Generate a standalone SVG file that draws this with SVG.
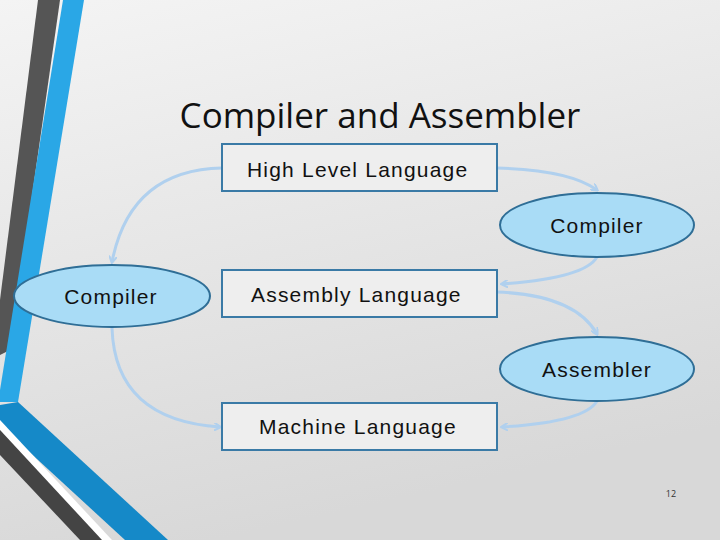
<svg xmlns="http://www.w3.org/2000/svg" width="720" height="540" viewBox="0 0 720 540">
<defs>
<linearGradient id="bg" x1="0" y1="0" x2="0.3" y2="1"><stop offset="0" stop-color="#f4f4f4"/><stop offset="1" stop-color="#d8d8d8"/></linearGradient>
<marker id="ah" markerWidth="8" markerHeight="8" refX="6" refY="4" orient="auto" markerUnits="userSpaceOnUse"><path d="M0,0 L7,4 L0,8" fill="none" stroke="#b0d0ee" stroke-width="2"/></marker>
</defs>
<style>
.box{fill:#eeeeee;stroke:#3a7aa6;stroke-width:2}
.ell{fill:#a9dcf6;stroke:#2f6e96;stroke-width:2}
.lbl{font-family:"Liberation Sans",Arial,sans-serif;font-size:21px;letter-spacing:1.2px;fill:#111}
.con{fill:none;stroke:#b0d0ee;stroke-width:3;marker-end:url(#ah)}
</style>
<rect width="720" height="540" fill="url(#bg)"/>
<g id="decor">
<polygon points="38,0 60,0 10,350 0,355 0,300" fill="#555555"/>
<polygon points="63,0 84,0 18,402 0,402 0,390" fill="#2aa7e6"/>
<polygon points="0,405 18,402 168,540 125,540 0,425" fill="#1589c8"/>
<polygon points="0,420 0,430 100,540 112,540" fill="#ffffff"/>
<polygon points="0,430 0,455 80,540 102,540" fill="#444444"/>
</g>
<text x="380" y="128" text-anchor="middle" font-family="'Open Sans',sans-serif" font-size="35" fill="#111">Compiler and Assembler</text>
<g id="connectors">
<path class="con" d="M497,168 Q570,170 597,190"/>
<path class="con" d="M597,257 Q585,278 502,284"/>
<path class="con" d="M497,292 Q575,295 597,334"/>
<path class="con" d="M597,401 Q585,422 502,427"/>
<path class="con" d="M222,168 Q130,170 112,262"/>
<path class="con" d="M112,328 Q115,420 220,427"/>
</g>
<g id="hll"><rect class="box" x="222" y="144" width="275" height="47"/><text class="lbl" x="247" y="177">High Level Language</text></g>
<g id="compiler1"><ellipse class="ell" cx="597" cy="225" rx="97" ry="32"/><text class="lbl" x="597" y="233" text-anchor="middle">Compiler</text></g>
<g id="compiler2"><ellipse class="ell" cx="112" cy="296" rx="98" ry="31"/><text class="lbl" x="111" y="304" text-anchor="middle">Compiler</text></g>
<g id="asm"><rect class="box" x="222" y="270" width="275" height="47"/><text class="lbl" x="251" y="302">Assembly Language</text></g>
<g id="assembler"><ellipse class="ell" cx="597" cy="369" rx="97" ry="32"/><text class="lbl" x="597" y="377" text-anchor="middle">Assembler</text></g>
<g id="ml"><rect class="box" x="222" y="403" width="275" height="47"/><text class="lbl" x="259" y="434">Machine Language</text></g>
<text x="671" y="497" font-family="'Open Sans',sans-serif" font-size="9" fill="#333" text-anchor="middle">12</text>
</svg>
